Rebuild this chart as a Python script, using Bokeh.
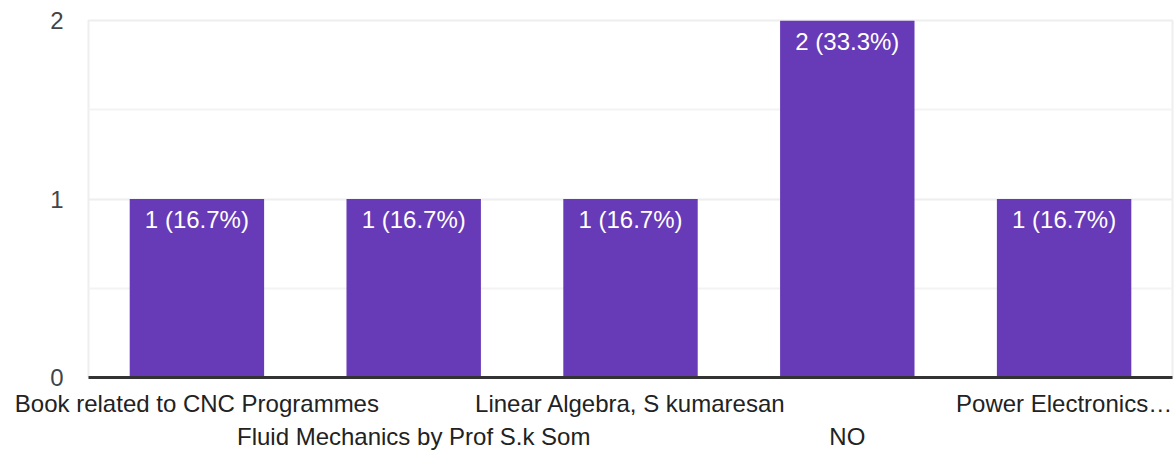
from bokeh.plotting import figure
from bokeh.models import ColumnDataSource, LinearAxis, FixedTicker, Range1d
from bokeh.core.properties import value
from bokeh.embed import file_html
from bokeh.resources import INLINE

categories = ["Book related to CNC Programmes", "Fluid Mechanics by Prof S.k Som",
              "Linear Algebra, S kumaresan", "NO", "Power Electronics\u2026"]
counts = [1, 1, 1, 2, 1]
labels = ["1 (16.7%)", "1 (16.7%)", "1 (16.7%)", "2 (33.3%)", "1 (16.7%)"]
y_ticks = [0, 1, 2]

FONT = "Liberation Sans"
FS = "24px"

xs = list(range(len(categories)))
src = ColumnDataSource(dict(x=xs, val=counts, lab=labels))

p = figure(x_range=Range1d(-0.5, len(categories) - 0.5), y_range=Range1d(0, 2),
           width=1174, height=452,
           output_backend="svg", toolbar_location=None,
           min_border_left=88, min_border_right=2, min_border_top=20, min_border_bottom=74,
           x_axis_location=None)
p.background_fill_color = "white"
p.border_fill_color = "white"
p.outline_line_color = "#eeeeee"
p.outline_line_width = 2

p.vbar(x="x", top="val", width=0.62, source=src, color="#673ab7", line_color=None)
p.text(x="x", y="val", text="lab", source=src, text_color="white",
       text_font=value(FONT), text_font_size=FS, text_align="center",
       text_baseline="top", y_offset=7)

# grid
p.xgrid.visible = False
p.ygrid.ticker = FixedTicker(ticks=y_ticks, minor_ticks=[0.5, 1.5])
p.ygrid.grid_line_color = "#eeeeee"
p.ygrid.grid_line_width = 2
p.ygrid.minor_grid_line_color = "#f3f3f3"
p.ygrid.minor_grid_line_width = 2

# y axis
ya = p.yaxis[0]
ya.ticker = FixedTicker(ticks=y_ticks)
ya.axis_line_color = None
ya.major_tick_line_color = None
ya.minor_tick_line_color = None
ya.major_label_standoff = 19
ya.major_label_text_font = FONT
ya.major_label_text_font_size = FS
ya.major_label_text_color = "#444444"

# x axes (staggered rows)
row1_ticks = [i for i in xs if i % 2 == 0]
row2_ticks = [i for i in xs if i % 2 == 1]

xa1 = LinearAxis(ticker=FixedTicker(ticks=row1_ticks, minor_ticks=[]),
                 major_label_overrides={i: categories[i] for i in row1_ticks})
xa1.axis_line_color = "#333333"
xa1.axis_line_width = 3
xa1.major_tick_line_color = None
xa1.minor_tick_line_color = None
xa1.major_label_standoff = 6
xa1.major_label_text_font = FONT
xa1.major_label_text_font_size = FS
xa1.major_label_text_color = "#222222"
p.add_layout(xa1, "below")

xa2 = LinearAxis(ticker=FixedTicker(ticks=row2_ticks, minor_ticks=[]),
                 major_label_overrides={i: categories[i] for i in row2_ticks})
xa2.axis_line_color = None
xa2.major_tick_line_color = None
xa2.minor_tick_line_color = None
xa2.major_label_standoff = -3
xa2.major_label_text_font = FONT
xa2.major_label_text_font_size = FS
xa2.major_label_text_color = "#222222"
p.add_layout(xa2, "below")

open("out.html", "w").write(file_html(p, INLINE))
